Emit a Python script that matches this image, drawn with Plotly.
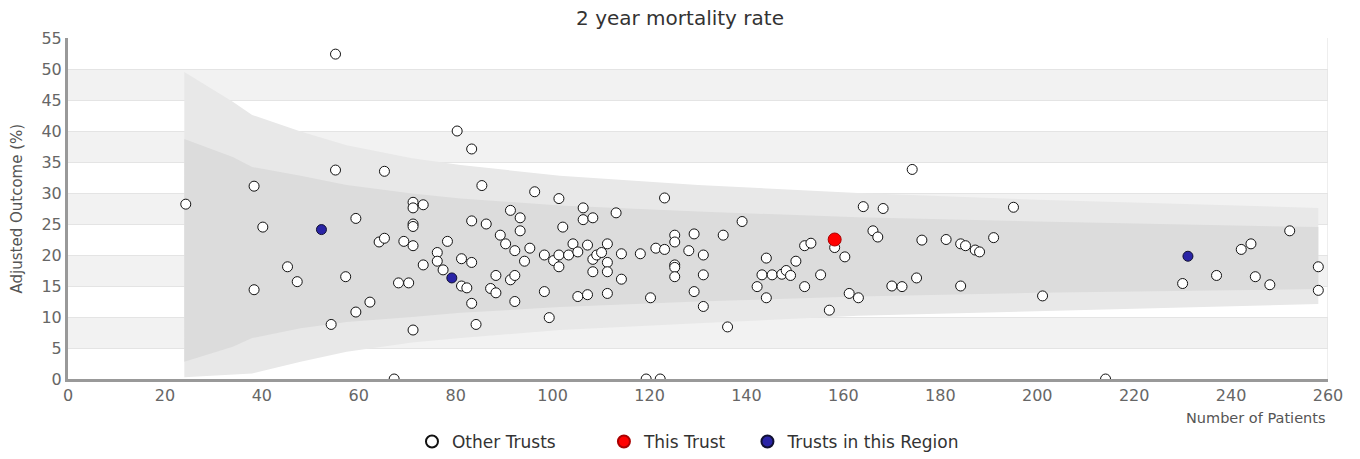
import plotly.graph_objects as go

# ---------------- data ----------------
other_x = [24.3, 55.2, 55.2, 65.3, 38.4, 40.2, 59.4, 71.2, 71.2, 73.3, 71.2, 71.2, 64.2, 65.3, 69.3, 71.2,
           78.3, 76.2, 76.2, 73.3, 77.4, 45.3, 47.3, 38.4, 57.3, 68.2, 70.3, 62.3, 59.4, 54.3, 71.2, 67.3,
           81.2, 80.3, 83.3, 85.4, 96.3, 101.3, 123.1, 106.3, 91.3, 93.3, 106.3, 108.3, 113.1, 83.3, 86.3,
           102.1, 93.3, 139.1, 125.2, 125.2, 129.2, 135.2, 89.2, 90.3, 92.2, 95.3, 81.2, 83.3, 82.3, 83.3,
           84.2, 88.3, 87.2, 88.3, 91.3, 92.2, 92.2, 94.2, 98.3, 100.2, 101.3, 101.3, 103.3, 104.2, 105.2,
           107.2, 108.3, 109.1, 110.1, 111.3, 111.3, 111.3, 108.3, 114.2, 114.2, 98.3, 99.3, 105.2, 107.2,
           111.3, 118.1, 121.3, 123.1, 125.2, 125.2, 125.2, 120.2, 128.1, 131.1, 131.1, 129.2, 131.1, 136.1,
           119.3, 122.2, 144.1, 143.2, 145.3, 147.3, 148.2, 149.1, 150.2, 142.2, 144.1, 152.0, 153.3, 152.0,
           155.3, 157.1, 158.2, 160.3, 161.2, 163.1, 174.2, 164.1, 168.2, 195.1, 166.1, 167.1, 176.2, 181.2,
           184.2, 185.2, 187.2, 188.1, 191.0, 170.0, 172.1, 175.1, 184.2, 201.1, 214.1, 230.0, 237.0, 242.1,
           244.1, 245.0, 248.0, 252.1, 258.0, 258.0]
other_y = [28.2, 52.4, 33.7, 33.5, 31.1, 24.5, 25.9, 28.5, 27.6, 28.1, 25.0, 24.6, 22.1, 22.7, 22.2, 21.5,
           22.2, 20.4, 19.0, 18.4, 17.6, 18.1, 15.7, 14.4, 16.5, 15.5, 15.5, 12.4, 10.8, 8.8, 7.9, 0.0,
           15.0, 40.0, 37.1, 31.2, 30.2, 29.1, 29.2, 27.6, 27.2, 26.0, 25.7, 26.0, 26.8, 25.5, 25.0,
           24.5, 23.9, 25.4, 23.2, 22.1, 23.4, 23.2, 23.2, 21.8, 20.7, 21.1, 19.4, 18.8, 14.7, 12.2,
           8.8, 16.7, 14.6, 13.9, 16.0, 16.7, 12.5, 19.0, 20.0, 19.1, 20.0, 18.1, 20.0, 21.8, 20.5,
           21.6, 19.3, 20.0, 20.4, 21.8, 18.8, 17.3, 17.3, 20.2, 16.1, 14.1, 9.9, 13.3, 13.6,
           13.8, 20.2, 21.1, 20.9, 18.4, 18.0, 16.5, 13.1, 20.7, 20.0, 16.8, 14.1, 11.7, 8.4,
           0.0, 0.0, 19.5, 16.8, 16.8, 16.9, 17.5, 16.7, 19.0, 14.9, 13.1, 21.5, 21.9, 14.9,
           16.8, 11.1, 21.2, 19.7, 13.8, 13.1, 33.8, 27.8, 27.5, 27.7, 23.9, 22.9, 22.4, 22.5,
           21.8, 21.5, 20.8, 20.5, 22.8, 15.0, 14.9, 16.3, 15.0, 13.4, 0.0, 15.4, 16.7, 20.9,
           21.8, 16.5, 15.2, 23.9, 18.1, 14.3]

region_x = [52.3, 79.2, 231.1]
region_y = [24.1, 16.3, 19.8]

this_x = [158.2]
this_y = [22.5]

funnel_n = [24, 34, 38, 48, 57.5, 71, 81, 101.5, 130, 163, 200, 258]
outer_hi = [49.5, 44.7, 42.6, 39.9, 37.7, 35.6, 34.5, 32.8, 31.3, 30.0, 28.9, 27.6]
inner_hi = [38.7, 35.8, 34.2, 32.8, 31.3, 29.9, 29.1, 28.0, 27.0, 26.1, 25.4, 24.5]
inner_lo = [2.8, 5.2, 6.6, 8.2, 9.2, 10.0, 10.7, 11.6, 12.5, 13.3, 13.9, 14.5]
outer_lo = [0.3, 0.7, 0.9, 2.8, 4.4, 5.9, 6.6, 7.9, 9.0, 10.2, 11.0, 12.1]

stripe_bands = [(5, 10), (15, 20), (25, 30), (35, 40), (45, 50)]
x_ticks = list(range(0, 261, 20))
y_ticks = list(range(0, 56, 5))

# ---------------- figure ----------------
FONT = "DejaVu Sans"
NB = "\u00a0"
fig = go.Figure()

# outer funnel band
fig.add_trace(go.Scatter(
    x=funnel_n + funnel_n[::-1], y=outer_hi + outer_lo[::-1],
    fill="toself", fillcolor="#e8e8e8", line=dict(width=0), mode="lines",
    hoverinfo="skip", showlegend=False))
# inner funnel band
fig.add_trace(go.Scatter(
    x=funnel_n + funnel_n[::-1], y=inner_hi + inner_lo[::-1],
    fill="toself", fillcolor="#dcdcdc", line=dict(width=0), mode="lines",
    hoverinfo="skip", showlegend=False))

fig.add_trace(go.Scatter(
    x=other_x, y=other_y, mode="markers", name="Other Trusts" + NB * 8, legendrank=1,
    marker=dict(size=10, color="white", line=dict(color="#111111", width=1))))
fig.add_trace(go.Scatter(
    x=region_x, y=region_y, mode="markers", name="Trusts in this Region", legendrank=3,
    marker=dict(size=10, color="#2a24a6", line=dict(color="#111133", width=1))))
fig.add_trace(go.Scatter(
    x=this_x, y=this_y, mode="markers", name="This Trust" + NB * 3, legendrank=2,
    marker=dict(size=13, color="#ff0000", line=dict(color="#aa0000", width=1))))

shapes = []
for lo, hi in stripe_bands:
    shapes.append(dict(type="rect", xref="x", yref="y", x0=0, x1=260, y0=lo, y1=hi,
                       fillcolor="#f2f2f2", line=dict(width=0), layer="below"))
shapes.append(dict(type="line", xref="x", yref="y", x0=260, x1=260, y0=0, y1=55,
                   line=dict(color="#dddddd", width=1), layer="below"))
fig.update_layout(shapes=shapes)

W, H = 1360, 459
fig.update_layout(
    width=W, height=H,
    margin=dict(l=68, r=32, t=38, b=80),
    paper_bgcolor="white", plot_bgcolor="white",
    font=dict(family=FONT, size=16, color="#555555"),
    title=dict(text="2 year mortality rate", x=0.5, xanchor="center",
               y=1 - 18 / H, yanchor="middle",
               font=dict(family=FONT, size=20, color="#333333")),
    legend=dict(orientation="h", x=0.273, xanchor="left",
                yref="container", y=1 - 442 / H, yanchor="middle",
                font=dict(family=FONT, size=17, color="#333333"), itemsizing="constant"),
    xaxis=dict(range=[0, 260], tickvals=x_ticks, showgrid=False, zeroline=False,
               showline=True, linecolor="#999999", linewidth=3, ticks="",
               tickfont=dict(family=FONT, size=16, color="#666666")),
    yaxis=dict(range=[0, 55], tickvals=y_ticks, showgrid=True, gridcolor="#e4e4e4",
               gridwidth=1, zeroline=False, showline=True, linecolor="#999999",
               linewidth=3, ticks="", tickfont=dict(family=FONT, size=16, color="#666666")),
    annotations=[
        dict(text="Number of Patients", xref="paper", yref="paper", x=1.0, y=-0.114,
             xanchor="right", yanchor="middle", showarrow=False,
             font=dict(family=FONT, size=14.5, color="#555555")),
        dict(text="Adjusted Outcome (%)", xref="paper", yref="paper", x=-0.0405, y=0.5,
             xanchor="center", yanchor="middle", textangle=-90, showarrow=False,
             font=dict(family=FONT, size=15, color="#555555")),
    ],
)

fig.write_html("out.html", config={"displayModeBar": False},
               post_script="document.body.style.margin='0px';")
